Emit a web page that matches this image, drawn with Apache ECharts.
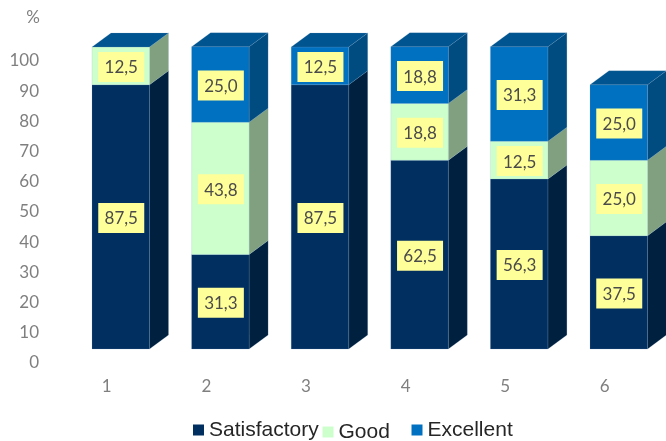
<!DOCTYPE html>
<html><head><meta charset="utf-8">
<style>html,body{margin:0;padding:0;background:#fff;overflow:hidden}#c{width:666px;height:441px}</style>
<script src="https://cdn.jsdelivr.net/npm/echarts@6/dist/echarts.min.js"></script>
</head><body><div id="c"></div>
<script>
var categories = ['1','2','3','4','5','6'];
var satisfactory = [87.5,31.3,87.5,62.5,56.3,37.5];
var good = [12.5,43.8,0,18.8,12.5,25.0];
var excellent = [0,25.0,12.5,18.8,31.3,25.0];
var yTicks = {min:0,max:100,interval:10};
var FONT = 'Lato';
var EDGE = 'rgba(130,170,205,0.35)';
var chart = echarts.init(document.getElementById('c'),null,{renderer:'canvas'});

var stacks = [satisfactory,good,excellent];
function rows(k){
  return categories.map(function(c,i){
    var base=0; for(var j=0;j<k;j++) base+=stacks[j][i];
    return [i,base,base+stacks[k][i],stacks[k][i]];
  });
}
function renderer(front,side,top){
  return function(params,api){
    var i=api.value(0),b=api.value(1),t=api.value(2),v=api.value(3);
    var band=api.size([1,0])[0];
    var c0=api.coord([i,b]),c1=api.coord([i,t]);
    var w=57.5, dx=19, dy=14;
    var x0=c0[0]-band/2+35, x1=x0+w, y0=c0[1]-14, y1=c1[1]-14;
    var kids=[];
    if(v>0){
      kids.push({type:'polygon',shape:{points:[[x1,y0],[x1+dx,y0-dy],[x1+dx,y1-dy],[x1,y1]]},style:{fill:side,stroke:EDGE,lineWidth:0.5}});
      kids.push({type:'rect',shape:{x:x0,y:y1,width:w,height:y0-y1},style:{fill:front,stroke:EDGE,lineWidth:0.5}});
    }
    if(top){
      kids.push({type:'polygon',shape:{points:[[x0,y1],[x0+dx,y1-dy],[x1+dx,y1-dy],[x1,y1]]},style:{fill:top,stroke:EDGE,lineWidth:0.5}});
    }
    if(v>0){
      var cx=x0+w/2+0.5, cy=(y0+y1)/2+1;
      kids.push({type:'rect',shape:{x:cx-23,y:cy-15,width:46,height:30},style:{fill:'#FFFF99'}});
      kids.push({type:'text',style:{x:cx,y:cy+1,text:v.toFixed(1).replace('.',','),fill:'#4a4a4a',font:'17px '+FONT,align:'center',verticalAlign:'middle'}});
    }
    return {type:'group',children:kids};
  };
}
function series(name,k,front,side,top){
  return {name:name,type:'custom',data:rows(k),renderItem:renderer(front,side,top),
    itemStyle:{color:front},encode:{x:0,y:[1,2]},silent:true,animation:false};
}
function legend(name,left,top){
  return {data:[name],left:left,top:top,padding:0,itemWidth:11,itemHeight:11,icon:'rect',selectedMode:false,
    textStyle:{fontFamily:'Liberation Sans',fontSize:21,color:'#262626',lineHeight:22}};
}
chart.setOption({
  animation:false,
  grid:{left:57,width:597.6,top:61,height:302,containLabel:false},
  legend:[legend('Satisfactory',193,419),legend('Good',322.5,421),legend('Excellent',411.5,419)],
  xAxis:{type:'category',data:categories,axisLine:{show:false},axisTick:{show:false},
    axisLabel:{color:'#7f7f7f',fontFamily:FONT,fontSize:17,margin:15.5}},
  yAxis:{type:'value',min:yTicks.min,max:yTicks.max,interval:yTicks.interval,name:'%',nameLocation:'end',nameGap:34.5,
    nameTextStyle:{color:'#7f7f7f',fontFamily:FONT,fontSize:17,align:'right',padding:[0,17,0,0]},
    axisLine:{show:false},axisTick:{show:false},splitLine:{show:false},
    axisLabel:{color:'#7f7f7f',fontFamily:FONT,fontSize:17,margin:18}},
  series:[
    series('Satisfactory',0,'#002F60','#00203F',null),
    series('Good',1,'#CCFFCC','#80A080',null),
    series('Excellent',2,'#0070C0','#004B80','#00548F')
  ]
});
</script></body></html>
